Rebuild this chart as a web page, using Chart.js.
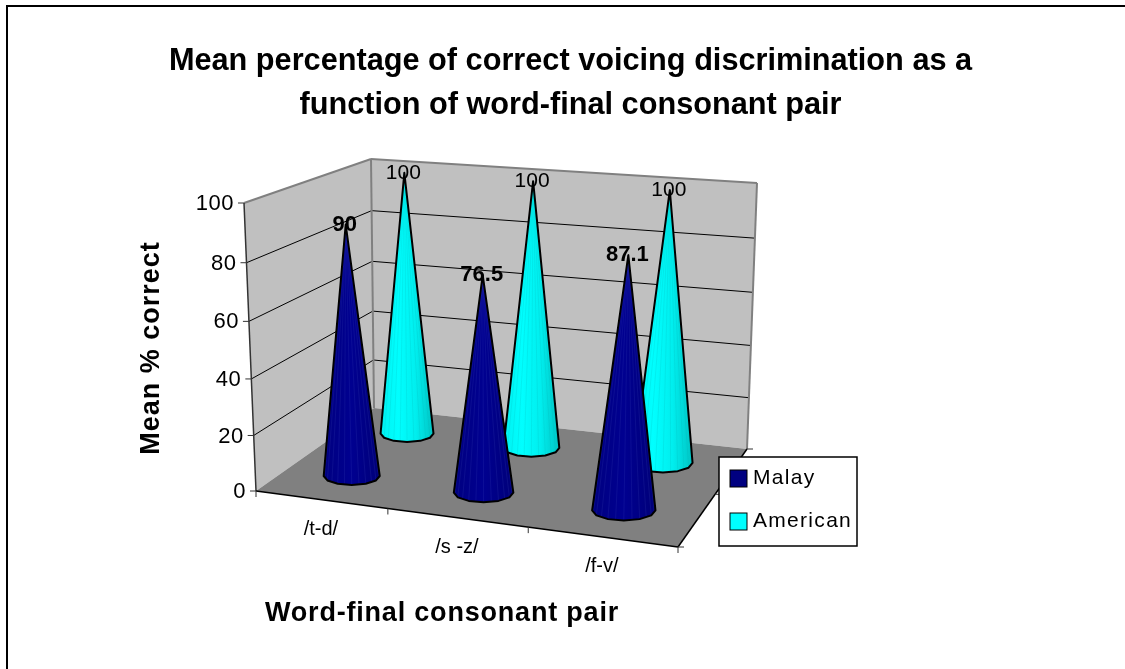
<!DOCTYPE html>
<html>
<head>
<meta charset="utf-8">
<title>Mean percentage of correct voicing discrimination</title>
<script src="https://cdn.jsdelivr.net/npm/chart.js@4"></script>
<style>
    html, body { margin: 0; background: #fff; }
    #marco { position: absolute; left: 6px; top: 5px; width: 1119px; height: 664px; border-left: 2px solid #000; border-top: 2px solid #000; box-sizing: border-box; }
    #lienzo { position: absolute; left: 0; top: 0; }
</style>
</head>
<body>
<div id="marco"></div>
<canvas id="lienzo" width="1125" height="669"></canvas>
<script>
// Datos
const categorias = ['/t-d/', '/s -z/', '/f-v/'];
const nombresSeries = ['Malay', 'American'];
const valoresMalay = [90, 76.5, 87.1];
const valoresAmerican = [100, 100, 100];
const marcasY = [0, 20, 40, 60, 80, 100];
const titulo = ['Mean percentage of correct voicing discrimination as a', 'function of word-final consonant pair'];
const tituloEjeX = 'Word-final consonant pair';
const tituloEjeY = 'Mean % correct';

// Esquinas de la caja 3D en pantalla
const PISO = [[256, 491], [678, 547], [747, 449], [374, 408]];   // (u,w): 00, 10, 11, 01
const TECHO = [[244, 203], [686, 236], [757, 183], [371, 159]];
const FUGA = -0.0446;   // perspectiva vertical
const FUENTE = '"Liberation Sans", Arial, sans-serif';

function homografia(q) {
    const [x0, y0] = q[0], [x1, y1] = q[1], [x2, y2] = q[2], [x3, y3] = q[3];
    const sx = x0 - x1 + x2 - x3, sy = y0 - y1 + y2 - y3;
    const dx1 = x1 - x2, dx2 = x3 - x2, dy1 = y1 - y2, dy2 = y3 - y2;
    const den = dx1 * dy2 - dx2 * dy1;
    const g = (sx * dy2 - dx2 * sy) / den, h = (dx1 * sy - sx * dy1) / den;
    const a = x1 - x0 + g * x1, b = x3 - x0 + h * x3;
    const d = y1 - y0 + g * y1, e = y3 - y0 + h * y3;
    return (u, w) => {
        const k = g * u + h * w + 1;
        return [(a * u + b * w + x0) / k, (d * u + e * w + y0) / k];
    };
}
const piso = homografia(PISO);
const techo = homografia(TECHO);

// u y w van de 0 a 1 sobre el piso, v de 0 a 1 en altura
function proyectar(u, w, v) {
    const b = piso(u, w), t = techo(u, w);
    const f = v * (1 + FUGA) / (1 + v * FUGA);
    return [b[0] + (t[0] - b[0]) * f, b[1] + (t[1] - b[1]) * f];
}

function linea(ctx, a, b, color, ancho) {
    ctx.strokeStyle = color;
    ctx.lineWidth = ancho;
    ctx.beginPath();
    ctx.moveTo(a[0], a[1]);
    ctx.lineTo(b[0], b[1]);
    ctx.stroke();
}

function poligono(ctx, puntos, color) {
    ctx.fillStyle = color;
    ctx.beginPath();
    puntos.forEach((p, i) => i ? ctx.lineTo(p[0], p[1]) : ctx.moveTo(p[0], p[1]));
    ctx.closePath();
    ctx.fill();
}

function texto(ctx, str, x, y, fuente, alinear, espacio) {
    ctx.font = fuente;
    ctx.fillStyle = '#000';
    ctx.textAlign = alinear || 'center';
    ctx.textBaseline = 'middle';
    ctx.letterSpacing = espacio || '0px';
    ctx.fillText(str, x, y);
    ctx.letterSpacing = '0px';
}

const altura = (chart, val) => {
    const y = chart.scales.y;
    return (y.bottom - y.getPixelForValue(val)) / (y.bottom - y.top);
};
const posX = (chart, i) => {
    const x = chart.scales.x;
    return (x.getPixelForValue(i) - x.left) / x.width;
};
const profundidad = (indice) => indice === 0 ? 0.25 : 0.75;

// Controlador de conos: usa las escalas de barras pero dibuja un cono por valor
class ConoController extends Chart.BarController {
    draw() {
        const chart = this.chart;
        const ctx = chart.ctx;
        const ds = this.getDataset();
        const w = profundidad(this.index);
        this.getMeta().data.forEach((el, i) => {
            const u = posX(chart, i);
            const base = piso(u, w);
            const apice = proyectar(u, w, altura(chart, ds.data[i]));
            const izq = piso(u - ds.radio, w), der = piso(u + ds.radio, w);
            const rx = (der[0] - izq[0]) / 2;
            const ry = rx * 0.32;
            const borde = [];
            for (let t = 0; t <= 6; t++) {
                const ang = Math.PI - t * Math.PI / 6;
                borde.push([base[0] + rx * Math.cos(ang), base[1] + ry * Math.sin(ang)]);
            }
            const silueta = [apice].concat(borde);
            const grad = ctx.createLinearGradient(base[0] - rx, 0, base[0] + rx, 0);
            ds.degradado.forEach((c, n) => grad.addColorStop(n / (ds.degradado.length - 1), c));
            poligono(ctx, silueta, grad);
            // vetas de las caras del cono
            ctx.save();
            ctx.globalAlpha = 0.15;
            for (let n = 1; n < 12; n++) {
                const ang = Math.PI - n * Math.PI / 12;
                linea(ctx, apice, [base[0] + rx * Math.cos(ang), base[1] + ry * Math.sin(ang) * 0.9], ds.veta, 1);
            }
            ctx.restore();
            ctx.strokeStyle = '#000';
            ctx.lineWidth = 2;
            ctx.lineJoin = 'round';
            ctx.beginPath();
            silueta.forEach((p, n) => n ? ctx.lineTo(p[0], p[1]) : ctx.moveTo(p[0], p[1]));
            ctx.closePath();
            ctx.stroke();
        });
    }
}
ConoController.id = 'cono';
ConoController.defaults = Chart.BarController.defaults;
ConoController.overrides = Chart.BarController.overrides;
Chart.register(ConoController);

// Paredes, piso y cuadricula detras de los conos
const cajaPlugin = {
    id: 'caja',
    beforeDatasetsDraw(chart) {
        const ctx = chart.ctx;
        const grisBorde = '#808080';
        poligono(ctx, [proyectar(0, 0, 0), proyectar(0, 1, 0), proyectar(0, 1, 1), proyectar(0, 0, 1)], '#C0C0C0');
        poligono(ctx, [proyectar(0, 1, 0), proyectar(1, 1, 0), proyectar(1, 1, 1), proyectar(0, 1, 1)], '#C0C0C0');
        poligono(ctx, [proyectar(0, 0, 0), proyectar(1, 0, 0), proyectar(1, 1, 0), proyectar(0, 1, 0)], '#808080');

        chart.scales.y.ticks.forEach(t => {
            const v = altura(chart, t.value);
            if (v > 0 && v < 1) {
                linea(ctx, proyectar(0, 0, v), proyectar(0, 1, v), '#000', 1);
                linea(ctx, proyectar(0, 1, v), proyectar(1, 1, v), '#000', 1);
            }
            const p = proyectar(0, 0, v);
            linea(ctx, [p[0] - 6, p[1]], p, '#333', 1);
            texto(ctx, t.label, p[0] - 10, p[1] + 1, '22px ' + FUENTE, 'right', '0.5px');
        });
        linea(ctx, proyectar(0, 0, 1), proyectar(0, 1, 1), grisBorde, 2);
        linea(ctx, proyectar(0, 1, 1), proyectar(1, 1, 1), grisBorde, 2);
        linea(ctx, proyectar(0, 1, 1), proyectar(0, 1, 0), grisBorde, 2);
        linea(ctx, proyectar(1, 1, 1), proyectar(1, 1, 0), grisBorde, 2);
        linea(ctx, proyectar(0, 0, 0), proyectar(0, 0, 1), '#333', 1.5);
        linea(ctx, proyectar(0, 0, 0), proyectar(1, 0, 0), '#000', 1.5);
        linea(ctx, proyectar(1, 0, 0), proyectar(1, 1, 0), '#000', 1.5);

        // marcas del eje x y de profundidad
        [0, 1 / 3, 2 / 3, 1].forEach(u => {
            const p = piso(u, 0);
            linea(ctx, p, [p[0], p[1] + 6], '#333', 1);
        });
        [0, 0.5, 1].forEach(w => {
            const p = piso(1, w);
            linea(ctx, p, [p[0] + 6, p[1]], '#333', 1);
        });
        chart.scales.x.ticks.forEach((t, i) => {
            const p = piso(posX(chart, i), 0);
            texto(ctx, t.label, p[0], p[1] + 30, '20px ' + FUENTE, 'center');
        });
    },
    // Etiquetas de datos, titulos de ejes y leyenda, encima de todo
    afterDatasetsDraw(chart) {
        const ctx = chart.ctx;
        chart.data.datasets.forEach((ds, d) => {
            const w = profundidad(d);
            ds.data.forEach((val, i) => {
                const p = proyectar(posX(chart, i), w, altura(chart, val));
                const fuente = (d === 0 ? 'bold 22px ' : '21px ') + FUENTE;
                texto(ctx, String(val), p[0] - 1, p[1], fuente, 'center');
            });
        });
        texto(ctx, tituloEjeX, 442, 614, 'bold 27px ' + FUENTE, 'center', '0.8px');
        ctx.save();
        ctx.translate(152, 348);
        ctx.rotate(-Math.PI / 2);
        texto(ctx, tituloEjeY, 0, 0, 'bold 27px ' + FUENTE, 'center', '1px');
        ctx.restore();

        ctx.fillStyle = '#fff';
        ctx.fillRect(719, 457, 138, 89);
        ctx.strokeStyle = '#000';
        ctx.lineWidth = 1.5;
        ctx.strokeRect(719, 457, 138, 89);
        chart.data.datasets.forEach((ds, d) => {
            const y = 470 + d * 43;
            ctx.fillStyle = ds.backgroundColor;
            ctx.fillRect(730, y, 17, 17);
            ctx.strokeStyle = '#000';
            ctx.lineWidth = 1;
            ctx.strokeRect(730, y, 17, 17);
            texto(ctx, ds.label, 753, y + 8, '21px ' + FUENTE, 'left', '1.3px');
        });
    }
};

new Chart(document.getElementById('lienzo'), {
    type: 'cono',
    data: {
        labels: categorias,
        datasets: [
            { label: nombresSeries[0], data: valoresMalay, backgroundColor: '#000080', degradado: ['#000080', '#000090', '#000078'], veta: '#5060C0', radio: 0.073 },
            { label: nombresSeries[1], data: valoresAmerican, backgroundColor: '#00FFFF', degradado: ['#00F0F0', '#00FFFF', '#00EEEE', '#00C4C4'], veta: '#00A0A0', radio: 0.073 }
        ]
    },
    plugins: [cajaPlugin],
    options: {
        responsive: false,
        animation: false,
        layout: { padding: { left: 16 } },
        scales: {
            x: { display: false },
            y: { display: false, min: marcasY[0], max: marcasY[marcasY.length - 1], afterBuildTicks: s => { s.ticks = marcasY.map(v => ({ value: v, label: String(v) })); } }
        },
        plugins: {
            legend: { display: false },
            tooltip: { enabled: false },
            title: {
                display: true,
                text: titulo,
                color: '#000',
                padding: { top: 39, bottom: 10 },
                font: { family: FUENTE, size: 30.7, weight: 'bold', lineHeight: 1.44 }
            }
        }
    }
});
</script>
</body>
</html>
